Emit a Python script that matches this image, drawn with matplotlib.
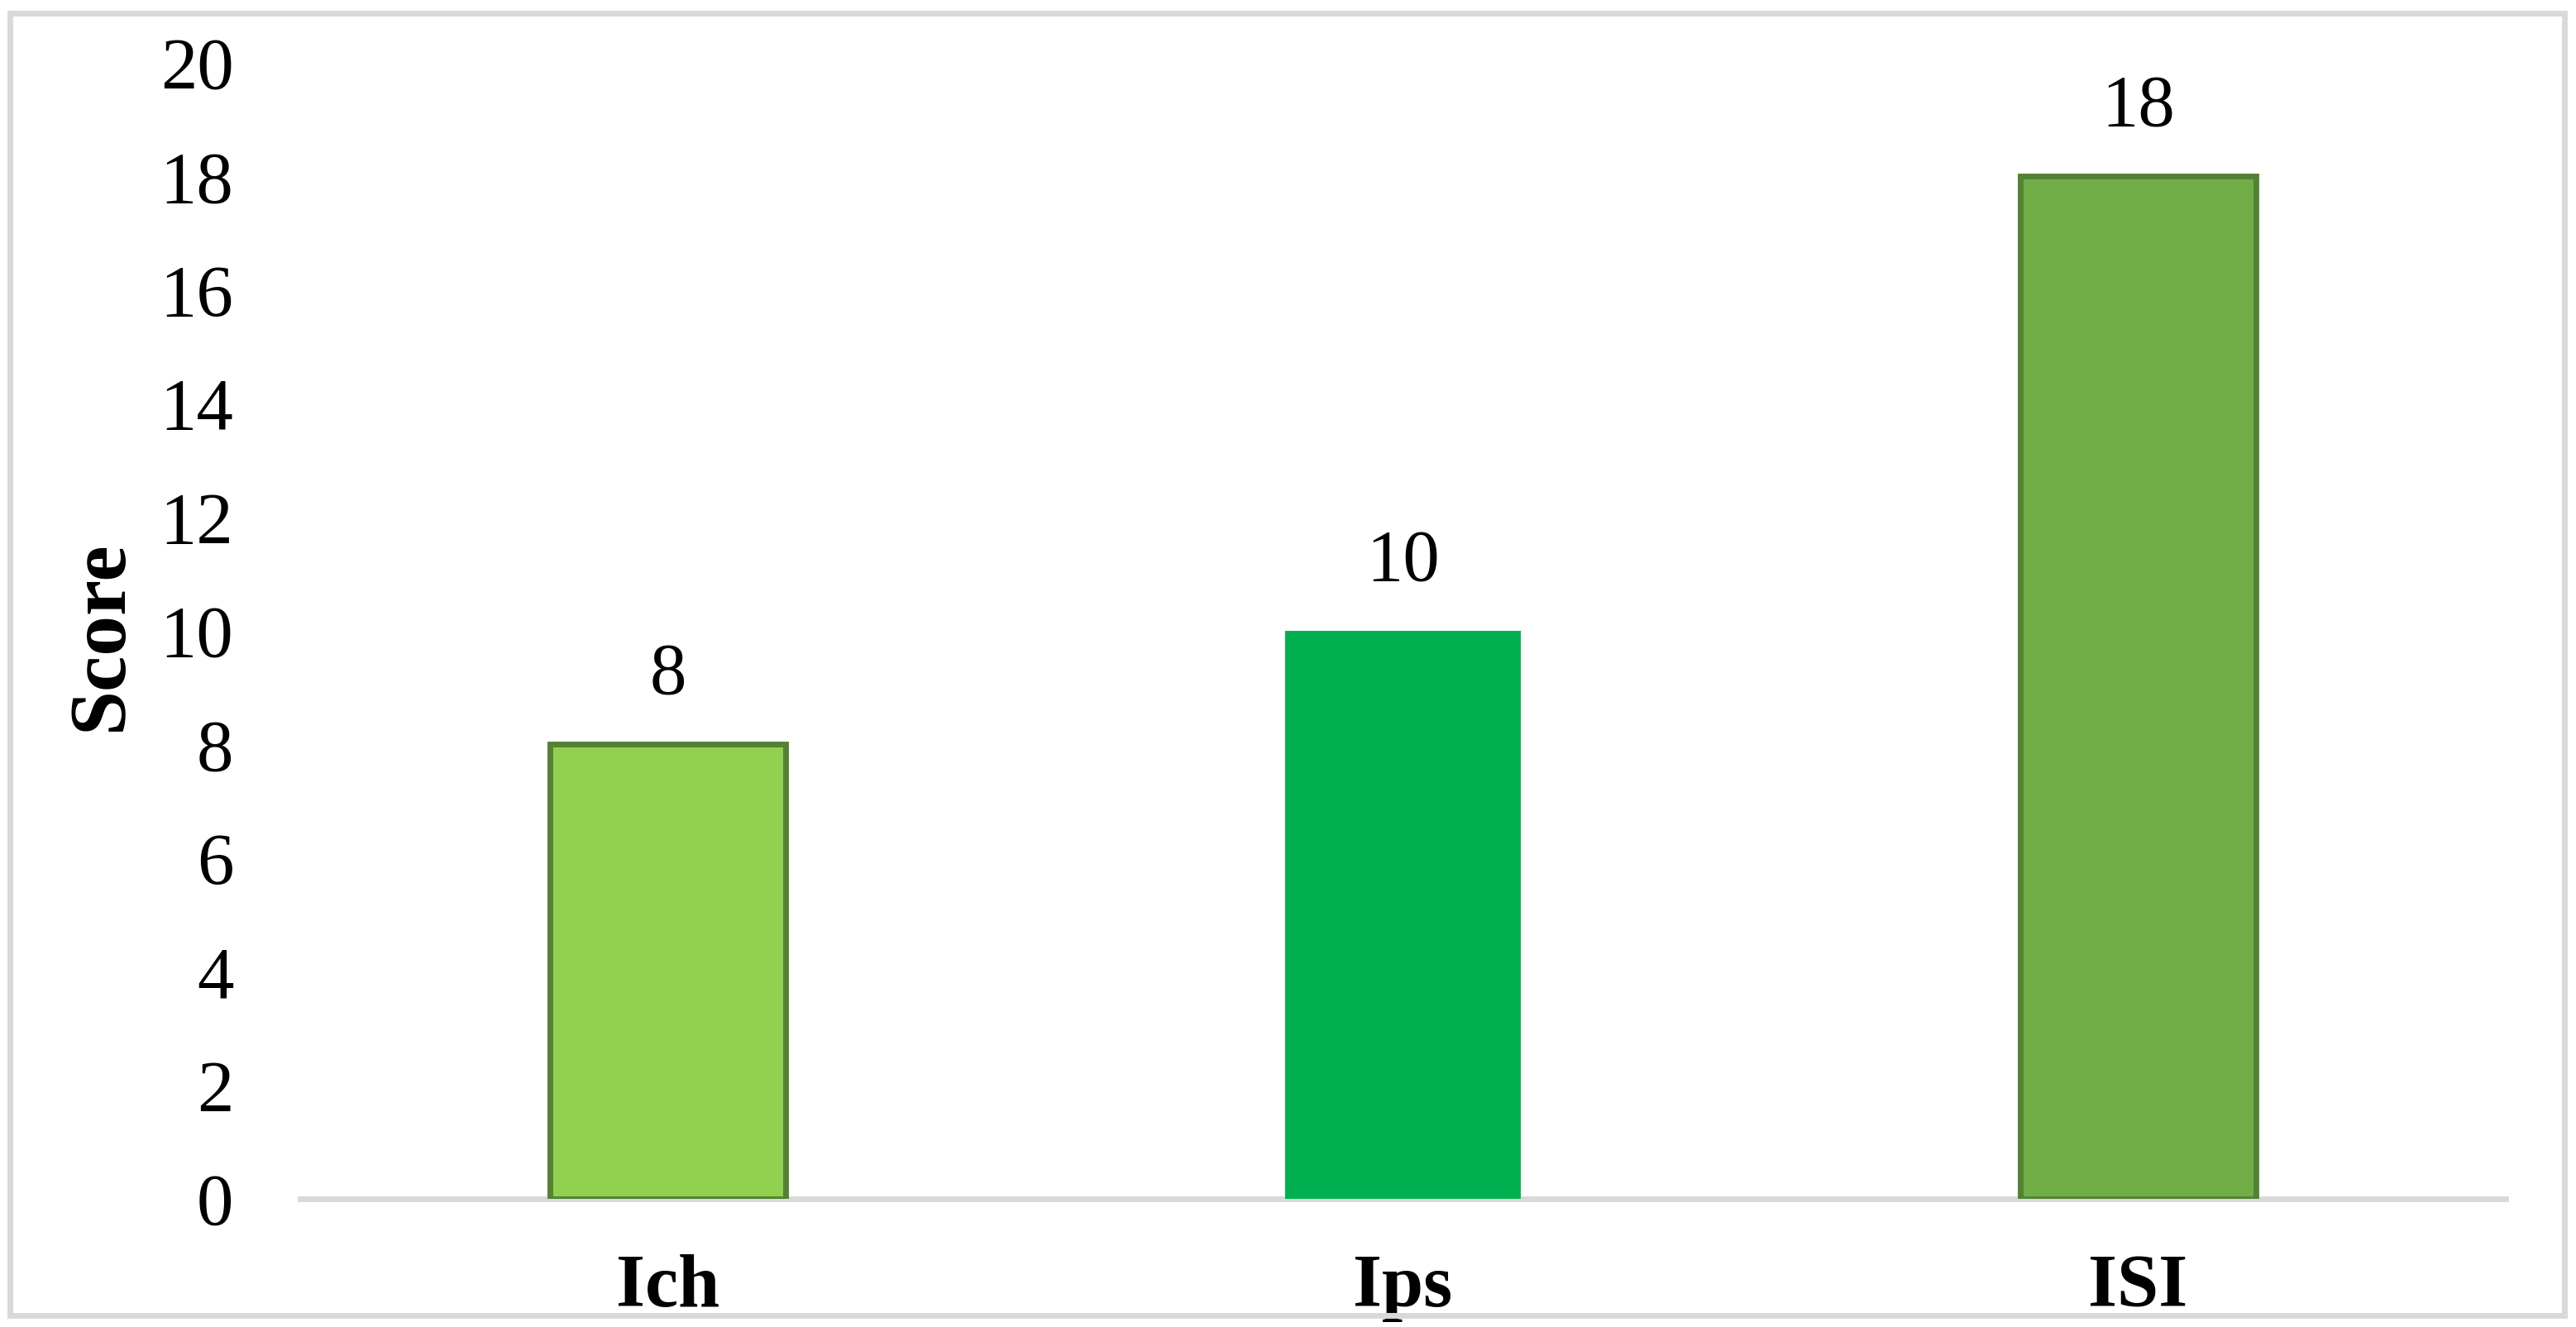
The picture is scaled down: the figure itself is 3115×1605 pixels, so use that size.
import matplotlib
matplotlib.use("Agg")
import matplotlib.pyplot as plt
from matplotlib.patches import Rectangle

categories = ["Ich", "Ips", "ISI"]
scores = [8, 10, 18]
colors = ["#92D050", "#00B050", "#70AD47"]
edges = ["#548235", "none", "#548235"]

plt.rcParams['font.family'] = ['Liberation Serif', 'DejaVu Serif']

fig = plt.figure(figsize=(31.15, 16.05), dpi=100)
ax = fig.add_axes([363 / 3115, 1 - 1450 / 1605, (3030 - 363) / 3115, (1450 - 76) / 1605])

x = range(len(categories))
bars = ax.bar(x, scores, width=0.32, color=colors, edgecolor=edges, linewidth=5, zorder=3)

for xi, v in zip(x, scores):
    ax.annotate(str(v), (xi, v), xytext=(0, 60), textcoords="offset points",
                ha="center", va="center", fontsize=64)

ax.set_xlim(-0.5, 2.5)
ax.set_ylim(0, 20)
ax.set_yticks(range(0, 21, 2))
ax.set_xticks(list(x))
ax.set_xticklabels(categories, fontsize=65, fontweight="bold")
ax.tick_params(axis="y", labelsize=64, length=0, pad=58)
ax.tick_params(axis="x", length=0, pad=48)

for s in ["top", "right", "left"]:
    ax.spines[s].set_visible(False)
ax.spines["bottom"].set_color("#D9D9D9")
ax.spines["bottom"].set_linewidth(5)
ax.spines["bottom"].set_zorder(2)

ax.set_ylabel("Score", fontsize=70, fontweight="bold")
ax.yaxis.set_label_coords(-0.073, 0.496)

# outer frame
fig.patches.append(Rectangle((12.5 / 3115, 14 / 1605), 3088 / 3115, 1575 / 1605,
                             transform=fig.transFigure, fill=False,
                             edgecolor="#D9D9D9", linewidth=5))

fig.savefig("out.png", dpi=100)
